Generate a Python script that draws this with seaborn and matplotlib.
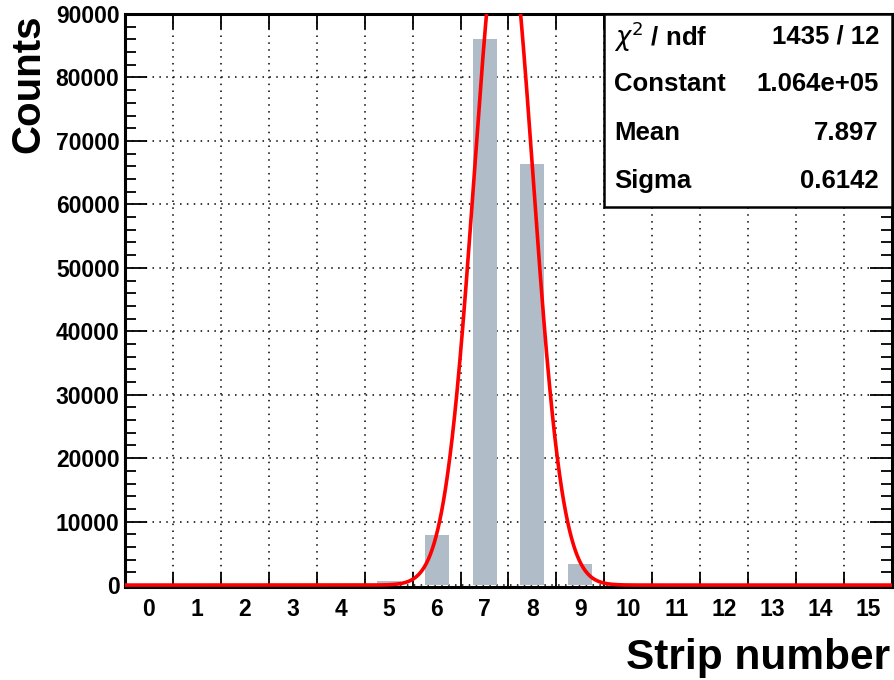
import numpy as np
import pandas as pd
import matplotlib
matplotlib.use("Agg")
import matplotlib.pyplot as plt
import seaborn as sns

# ---- data ----
strips = list(range(16))
counts = [0, 0, 0, 0, 0, 700, 7900, 86000, 66400, 3300, 0, 0, 0, 0, 0, 0]
fit_constant = 1.064e5
fit_mean = 7.897
fit_sigma = 0.6142
chi2, ndf = 1435, 12
y_ticks = [0, 10000, 20000, 30000, 40000, 50000, 60000, 70000, 80000, 90000]

sns.set_theme(style="white")
plt.rcParams['font.family'] = ['Liberation Sans', 'DejaVu Sans']
plt.rcParams['mathtext.fontset'] = 'dejavusans'
plt.rcParams['text.color'] = 'black'
plt.rcParams['xtick.color'] = 'black'
plt.rcParams['ytick.color'] = 'black'
plt.rcParams['xtick.labelcolor'] = 'black'
plt.rcParams['ytick.labelcolor'] = 'black'

fig = plt.figure(figsize=(8.95, 6.8), dpi=100)
ax = fig.add_axes([0.1397, 0.1368, 0.9966 - 0.1397, 0.9794 - 0.1368])

# bins [k, k+1), bars centred at k+0.5
df = pd.DataFrame({"center": [s + 0.5 for s in strips], "counts": counts})
sns.barplot(data=df, x="center", y="counts", native_scale=True, width=0.5,
            color="#b0bcc8", saturation=1, edgecolor="none", ax=ax, zorder=2)

xs = np.linspace(0, 16, 1600)
ys = fit_constant * np.exp(-0.5 * ((xs - fit_mean) / fit_sigma) ** 2)
sns.lineplot(x=xs, y=ys, color="#ff0000", linewidth=2.6, ax=ax, zorder=6,
             clip_on=True)

ax.set_xlim(0, 16)
ax.set_ylim(-300, 90000)

# grid at bin edges / major y ticks
ax.set_xticks(range(0, 17))
ax.set_xticklabels([])
ax.set_xticks([s + 0.5 for s in strips], minor=True)
ax.set_xticklabels([str(s) for s in strips], minor=True)
ax.set_yticks(y_ticks)
ax.set_yticklabels([str(v) for v in y_ticks])
ax.set_yticks(np.arange(0, 90001, 2000), minor=True)

ax.grid(True, which="major", color="black", linestyle=(0, (1, 3.5)), linewidth=1.1, zorder=0)
ax.set_axisbelow(True)

ax.tick_params(axis="x", which="major", direction="in", length=11, width=1.3,
               top=True, bottom=True)
ax.tick_params(axis="x", which="minor", length=0, labelsize=16.5, pad=8)
ax.tick_params(axis="y", which="major", direction="in", length=16, width=1.3,
               left=True, right=True, labelsize=16.5, pad=4)
ax.tick_params(axis="y", which="minor", direction="in", length=8, width=1.3,
               left=True, right=True)
for lab in ax.get_xticklabels(minor=True) + ax.get_yticklabels():
    lab.set_fontweight("bold")

for sp in ax.spines.values():
    sp.set_color("black")
    sp.set_linewidth(2.2)
    sp.set_zorder(5)

ax.set_xlabel("")
ax.set_ylabel("")
fig.text(0.9944, 0.003, "Strip number", ha="right", va="bottom",
         fontsize=30.5, fontweight="bold")
fig.text(0.010, 0.9794, "Counts", ha="left", va="top", rotation=90,
         fontsize=29, fontweight="bold")

# stats box
bx0, by0 = 0.625, 0.663
ax.add_patch(plt.Rectangle((bx0, by0), 1 - bx0, 1 - by0, transform=ax.transAxes,
                           facecolor="white", edgecolor="black", linewidth=1.8, zorder=7))
rows = [(r"$\chi^{2}$ / ndf", f"{chi2} / {ndf}"),
        ("Constant", f"{fit_constant:.3e}"),
        ("Mean", f"{fit_mean:.3f}"),
        ("Sigma", f"{fit_sigma:.4f}")]
row_y = [0.960, 0.878, 0.793, 0.708]
for (lab, val), yy in zip(rows, row_y):
    ax.text(0.638, yy, lab, transform=ax.transAxes, ha="left", va="center",
            fontsize=18.5, fontweight="bold", zorder=8)
    ax.text(0.983, yy, val, transform=ax.transAxes, ha="right", va="center",
            fontsize=18.5, fontweight="bold", zorder=8)

fig.savefig("out.png", dpi=100)
